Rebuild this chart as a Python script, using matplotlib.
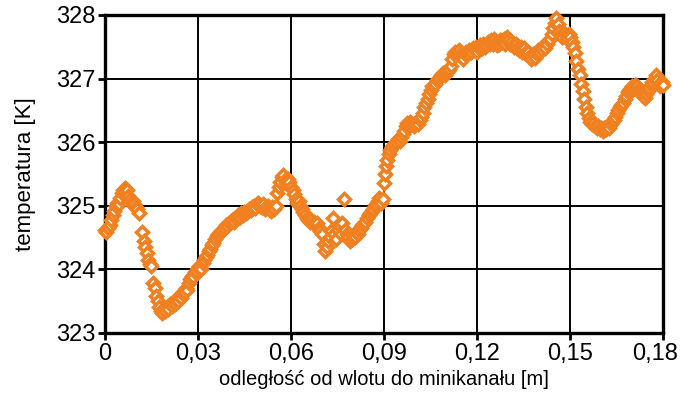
import matplotlib.pyplot as plt
import matplotlib.transforms as mtransforms

# odległość od wlotu [m] i temperatura [K]
x_m = [
    0.0000, 0.0005, 0.0010, 0.0015, 0.0020, 0.0025, 0.0030, 0.0035, 0.0040, 0.0045,
    0.0050, 0.0055, 0.0060, 0.0065, 0.0070, 0.0075, 0.0080, 0.0085, 0.0090, 0.0095,
    0.0100, 0.0105, 0.0110,
    0.0120, 0.0125, 0.0130, 0.0135, 0.0140, 0.0145, 0.0150, 0.0155, 0.0160, 0.0165,
    0.0170, 0.0175, 0.0180, 0.0185, 0.0190, 0.0195, 0.0200, 0.0205, 0.0210, 0.0215,
    0.0220, 0.0225, 0.0230, 0.0235, 0.0240, 0.0245, 0.0250, 0.0255, 0.0260, 0.0265,
    0.0270, 0.0275, 0.0280, 0.0285, 0.0290, 0.0295, 0.0300,
    0.0305, 0.0310, 0.0315, 0.0320, 0.0325, 0.0330, 0.0335, 0.0340, 0.0345, 0.0350,
    0.0355, 0.0360, 0.0365, 0.0370, 0.0375, 0.0380, 0.0385, 0.0390, 0.0395, 0.0400,
    0.0405, 0.0410, 0.0415, 0.0420, 0.0425, 0.0430, 0.0435, 0.0440, 0.0445, 0.0450,
    0.0455, 0.0460, 0.0465, 0.0470, 0.0475, 0.0480, 0.0485, 0.0490, 0.0495, 0.0500,
    0.0505, 0.0510, 0.0515, 0.0520, 0.0525, 0.0530, 0.0535, 0.0540, 0.0545, 0.0550,
    0.0555, 0.0560, 0.0565, 0.0570, 0.0575, 0.0580, 0.0585, 0.0590, 0.0595, 0.0600,
    0.0605, 0.0610, 0.0615, 0.0620, 0.0625, 0.0630, 0.0635, 0.0640, 0.0645, 0.0650,
    0.0655, 0.0660, 0.0665, 0.0670, 0.0675, 0.0680, 0.0685, 0.0690, 0.0695, 0.0700,
    0.0705, 0.0710, 0.0715, 0.0720, 0.0725, 0.0730, 0.0735, 0.0740, 0.0745, 0.0750,
    0.0755, 0.0760, 0.0765, 0.0770, 0.0775, 0.0780, 0.0785, 0.0790, 0.0795, 0.0800,
    0.0805, 0.0810, 0.0815, 0.0820, 0.0825, 0.0830, 0.0835, 0.0840, 0.0845, 0.0850,
    0.0855, 0.0860, 0.0865, 0.0870, 0.0875, 0.0880, 0.0885, 0.0890, 0.0895,
    0.0900, 0.0903, 0.0906, 0.0910, 0.0915, 0.0920, 0.0925, 0.0930, 0.0935, 0.0940,
    0.0945, 0.0950, 0.0955, 0.0960, 0.0965, 0.0970, 0.0975, 0.0980, 0.0985, 0.0990,
    0.0995, 0.1000, 0.1005, 0.1010, 0.1015, 0.1020, 0.1025, 0.1030, 0.1035, 0.1040,
    0.1045, 0.1050, 0.1055, 0.1060, 0.1065, 0.1070, 0.1075, 0.1080, 0.1085, 0.1090,
    0.1095, 0.1100, 0.1105, 0.1110, 0.1115, 0.1120, 0.1125, 0.1130, 0.1135, 0.1140,
    0.1145, 0.1150, 0.1155, 0.1160, 0.1165, 0.1170, 0.1175, 0.1180, 0.1185, 0.1190,
    0.1195, 0.1200, 0.1205, 0.1210, 0.1215, 0.1220, 0.1225, 0.1230, 0.1235, 0.1240,
    0.1245, 0.1250, 0.1255, 0.1260, 0.1265, 0.1270, 0.1275, 0.1280, 0.1285, 0.1290,
    0.1295, 0.1300, 0.1305, 0.1310, 0.1315, 0.1320, 0.1325, 0.1330, 0.1335, 0.1340,
    0.1345, 0.1350, 0.1355, 0.1360, 0.1365, 0.1370, 0.1375, 0.1380, 0.1385, 0.1390,
    0.1395, 0.1400, 0.1405, 0.1410, 0.1415, 0.1420, 0.1425, 0.1430, 0.1435, 0.1440,
    0.1445, 0.1450, 0.1455, 0.1460, 0.1465, 0.1470, 0.1475, 0.1480, 0.1485, 0.1490,
    0.1495, 0.1500, 0.1505,
    0.1510, 0.1515, 0.1520, 0.1525, 0.1530, 0.1535, 0.1540, 0.1545, 0.1550, 0.1555,
    0.1560, 0.1565, 0.1570, 0.1575, 0.1580, 0.1585, 0.1590, 0.1595, 0.1600, 0.1605,
    0.1610, 0.1615, 0.1620, 0.1625, 0.1630, 0.1635, 0.1640, 0.1645, 0.1650, 0.1655,
    0.1660, 0.1665, 0.1670, 0.1675, 0.1680, 0.1685, 0.1690, 0.1695, 0.1700, 0.1705,
    0.1710, 0.1715, 0.1720, 0.1725, 0.1730, 0.1735, 0.1740, 0.1745, 0.1750, 0.1755,
    0.1760, 0.1765, 0.1770, 0.1775, 0.1780, 0.1785, 0.1790, 0.1795, 0.1800,
]

temp_K = [
    324.62, 324.58, 324.65, 324.70, 324.78, 324.85, 324.92, 325.00, 325.05, 325.02,
    325.12, 325.20, 325.25, 325.28, 325.24, 325.15, 325.10, 325.05, 325.08, 325.02,
    324.98, 324.95, 324.88,
    324.58, 324.45, 324.35, 324.25, 324.15, 324.08, 324.05, 323.78, 323.70, 323.58,
    323.50, 323.40, 323.35, 323.32, 323.38, 323.35, 323.40, 323.38, 323.45, 323.42,
    323.48, 323.45, 323.52, 323.50, 323.58, 323.55, 323.62, 323.65, 323.70, 323.68,
    323.78, 323.85, 323.90, 323.88, 323.95, 323.98, 324.02,
    324.05, 324.00, 324.10, 324.15, 324.20, 324.22, 324.28, 324.32, 324.38, 324.42,
    324.48, 324.52, 324.55, 324.58, 324.60, 324.62, 324.65, 324.70, 324.68, 324.72,
    324.75, 324.78, 324.75, 324.80, 324.82, 324.85, 324.82, 324.88, 324.85, 324.90,
    324.88, 324.92, 324.95, 324.93, 324.98, 325.00, 324.97, 325.02, 325.05, 325.00,
    324.98, 325.02, 324.95, 324.98, 325.00, 324.95, 324.92, 324.98, 324.95, 325.00,
    325.20, 325.30, 325.38, 325.45, 325.48, 325.40, 325.35, 325.42, 325.38, 325.30,
    325.25, 325.18, 325.10, 325.05, 325.08, 325.00, 324.95, 324.90, 324.85, 324.80,
    324.78, 324.75, 324.78, 324.72, 324.75, 324.70, 324.72, 324.65, 324.60, 324.55,
    324.40, 324.28, 324.35, 324.45, 324.50, 324.60, 324.80, 324.55, 324.48, 324.62,
    324.70, 324.55, 324.72, 325.10, 324.62, 324.55, 324.50, 324.45, 324.48, 324.52,
    324.50, 324.58, 324.55, 324.62, 324.65, 324.70, 324.72, 324.75, 324.80, 324.85,
    324.88, 324.92, 324.95, 325.00, 325.02, 325.08, 325.12, 325.05, 325.10,
    325.35, 325.50, 325.62, 325.72, 325.82, 325.88, 325.92, 325.95, 325.98, 326.00,
    326.05, 326.02, 326.08, 326.12, 326.18, 326.25, 326.30, 326.28, 326.32, 326.28,
    326.25, 326.30, 326.32, 326.28, 326.35, 326.40, 326.45, 326.55, 326.62, 326.68,
    326.75, 326.82, 326.88, 326.90, 326.92, 326.98, 327.00, 327.02, 327.05, 327.08,
    327.05, 327.10, 327.12, 327.15, 327.20, 327.30, 327.38, 327.42, 327.40, 327.45,
    327.38, 327.35, 327.30, 327.38, 327.42, 327.40, 327.45, 327.42, 327.48, 327.45,
    327.50, 327.42, 327.48, 327.52, 327.48, 327.55, 327.50, 327.52, 327.58, 327.55,
    327.60, 327.55, 327.62, 327.58, 327.52, 327.55, 327.60, 327.58, 327.62, 327.55,
    327.65, 327.60, 327.55, 327.58, 327.52, 327.50, 327.55, 327.48, 327.45, 327.50,
    327.42, 327.48, 327.40, 327.38, 327.42, 327.35, 327.30, 327.38, 327.32, 327.40,
    327.45, 327.42, 327.48, 327.45, 327.52, 327.48, 327.55, 327.60, 327.62, 327.70,
    327.80, 327.88, 327.95, 327.85, 327.75, 327.70, 327.65, 327.72, 327.68, 327.62,
    327.70, 327.65, 327.58,
    327.50, 327.40, 327.28, 327.15, 327.05, 326.92, 326.80, 326.68, 326.55, 326.45,
    326.38, 326.32, 326.28, 326.30, 326.25, 326.22, 326.25, 326.20, 326.22, 326.18,
    326.22, 326.20, 326.25, 326.22, 326.28, 326.32, 326.35, 326.40, 326.45, 326.50,
    326.55, 326.58, 326.62, 326.68, 326.72, 326.78, 326.82, 326.85, 326.88, 326.85,
    326.90, 326.88, 326.82, 326.78, 326.75, 326.72, 326.70, 326.75, 326.80, 326.85,
    326.90, 326.95, 327.00, 327.05, 326.98, 326.92, 326.88, 326.95, 326.90,
]

x_ticks = [0, 0.03, 0.06, 0.09, 0.12, 0.15, 0.18]
x_tick_labels = ['0', '0,03', '0,06', '0,09', '0,12', '0,15', '0,18']
y_ticks = [323, 324, 325, 326, 327, 328]

plt.rcParams['font.family'] = ['Liberation Sans', 'DejaVu Sans']

fig = plt.figure(figsize=(6.81, 4.03), dpi=100)
ax = fig.add_axes([0.154, 0.174, 0.82, 0.789])

ax.plot(x_m, temp_K, linestyle='none', marker='D', markersize=6.2,
        markerfacecolor='white', markeredgecolor='#F08020', markeredgewidth=2.5,
        clip_on=False, zorder=3)

ax.set_xlim(0, 0.18)
ax.set_ylim(323, 328)
ax.set_xticks(x_ticks)
ax.set_xticklabels(x_tick_labels)
ax.set_yticks(y_ticks)

ax.grid(True, color='black', linewidth=1.4)
ax.set_axisbelow(True)
for side in ax.spines.values():
    side.set_linewidth(2.4)
    side.set_color('black')

ax.tick_params(axis='both', direction='out', length=5, width=2,
               labelsize=17, pad=2, top=False, right=False)

# ostatnia etykieta lekko w lewo, żeby nie wychodziła poza obraz
last = ax.get_xticklabels()[-1]
last.set_transform(last.get_transform() +
                   mtransforms.ScaledTranslation(-8 / 100, 0, fig.dpi_scale_trans))

ax.set_xlabel('odległość od wlotu do minikanału [m]', fontsize=14.5, labelpad=4)
ax.set_ylabel('temperatura [K]', fontsize=16, labelpad=14)

plt.savefig('out.png', dpi=100)
